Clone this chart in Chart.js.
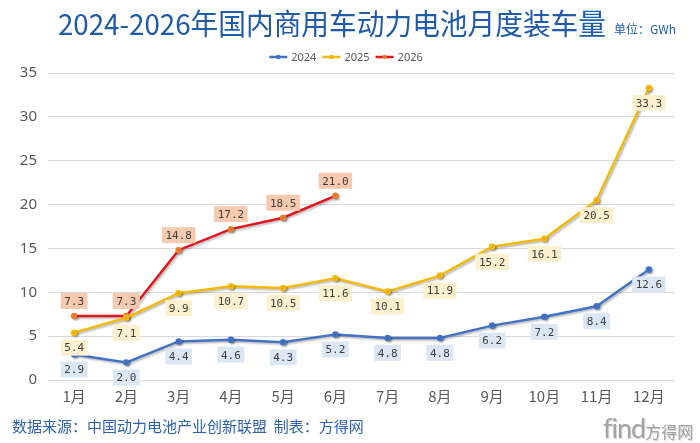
<!DOCTYPE html>
<html>
<head>
<meta charset="utf-8">
<script src="https://cdn.jsdelivr.net/npm/chart.js@4/dist/chart.umd.min.js"></script>
<style>
    html, body { margin: 0; padding: 0; background: #fff; }
    #wrap { position: relative; width: 700px; height: 443px; overflow: hidden; font-family: "Noto Sans CJK SC", "Noto Sans", sans-serif; }
    #chart { position: absolute; left: 0; top: 0; }
    #unit { position: absolute; left: 614px; top: 21px; font-size: 12px; line-height: 16px; color: #1f5ba6; white-space: nowrap; }
    #source { position: absolute; left: 12px; top: 415px; font-size: 15px; line-height: 22px; color: #2f62ab; white-space: nowrap; }
    #mark { position: absolute; left: 603px; top: 411px; color: #a3a3a3; white-space: nowrap; text-shadow: 1px 1px 0 #d8d8d8; }
    #mark .en { font-family: "Lato", sans-serif; font-size: 27px; letter-spacing: -1px; }
    #mark .cn { font-size: 16px; }
</style>
</head>
<body>
<div id="wrap">
    <canvas id="chart" width="700" height="443"></canvas>
    <div id="unit">单位：GWh</div>
    <div id="source">数据来源：中国动力电池产业创新联盟&nbsp;&nbsp;制表：方得网</div>
    <div id="mark"><span class="en">find</span><span class="cn">方得网</span></div>
</div>
<script>
const chartTitle = '2024-2026年国内商用车动力电池月度装车量';
const months = ['1月', '2月', '3月', '4月', '5月', '6月', '7月', '8月', '9月', '10月', '11月', '12月'];
const values2024 = [2.9, 2.0, 4.4, 4.6, 4.3, 5.2, 4.8, 4.8, 6.2, 7.2, 8.4, 12.6];
const values2025 = [5.4, 7.1, 9.9, 10.7, 10.5, 11.6, 10.1, 11.9, 15.2, 16.1, 20.5, 33.3];
const values2026 = [7.3, 7.3, 14.8, 17.2, 18.5, 21.0];
const yTicks = [0, 5, 10, 15, 20, 25, 30, 35];

const seriesList = [
    { name: '2024', data: values2024, color: '#4472c4', point: '#4472c4', labelBg: '#dce7f5', below: true },
    { name: '2025', data: values2025, color: '#f5b90a', point: '#f5b90a', labelBg: '#fdf0cf', below: true },
    { name: '2026', data: values2026, color: '#e3141b', point: '#ed7d31', labelBg: '#f7c9ae', below: false }
];

const textColor = '#595959';

// title, soft line shadows, boxed value labels and the small legend
const lineDecor = {
    id: 'lineDecor',
    beforeDatasetsDraw(chart) {
        const ctx = chart.ctx;
        ctx.save();
        ctx.shadowColor = 'rgba(0,0,0,0.28)';
        ctx.shadowOffsetX = 1.5;
        ctx.shadowOffsetY = 1.5;
        ctx.shadowBlur = 2;
    },
    afterDatasetsDraw(chart) {
        const ctx = chart.ctx;
        ctx.restore();
        ctx.save();
        ctx.font = '11px "DejaVu Sans Mono", monospace';
        ctx.textAlign = 'center';
        ctx.textBaseline = 'middle';
        chart.data.datasets.forEach((ds, i) => {
            const meta = chart.getDatasetMeta(i);
            meta.data.forEach((pt, j) => {
                const v = ds.data[j];
                if (v == null) return;
                const text = v.toFixed(1);
                const y = pt.y + (ds.labelBelow ? 15 : -15);
                const w = ctx.measureText(text).width + 7;
                ctx.fillStyle = ds.labelBg;
                ctx.fillRect(pt.x - w / 2, y - 8, w, 16);
                ctx.fillStyle = '#404040';
                ctx.fillText(text, pt.x, y + 1);
            });
        });
        ctx.restore();
    },
    afterDraw(chart) {
        const ctx = chart.ctx;

        // title, squeezed to the reference width
        ctx.save();
        ctx.font = '29px "Noto Sans CJK SC", sans-serif';
        ctx.textBaseline = 'middle';
        ctx.fillStyle = '#1f5ba6';
        const tw = ctx.measureText(chartTitle).width;
        ctx.translate(58, 24);
        ctx.scale(548 / tw, 1);
        ctx.fillText(chartTitle, 0, 0);
        ctx.restore();

        // legend: short line with a dot, then the year
        ctx.save();
        ctx.font = '11px "Noto Sans", sans-serif';
        ctx.textBaseline = 'middle';
        const y = 57;
        const widths = chart.data.datasets.map(ds => 18 + 4 + ctx.measureText(ds.label).width);
        const gap = 6;
        const total = widths.reduce((a, b) => a + b, 0) + gap * (widths.length - 1);
        let x = 346 - total / 2;
        chart.data.datasets.forEach((ds, i) => {
            ctx.strokeStyle = ds.borderColor;
            ctx.lineWidth = 2.5;
            ctx.beginPath();
            ctx.moveTo(x, y);
            ctx.lineTo(x + 18, y);
            ctx.stroke();
            ctx.fillStyle = ds.pointBackgroundColor;
            ctx.beginPath();
            ctx.arc(x + 9, y, 2.2, 0, Math.PI * 2);
            ctx.fill();
            ctx.fillStyle = textColor;
            ctx.fillText(ds.label, x + 22, y + 1);
            x += widths[i] + gap;
        });
        ctx.restore();
    }
};

const datasets = seriesList.map(s => ({
    label: s.name,
    data: s.data,
    borderColor: s.color,
    backgroundColor: s.color,
    pointBackgroundColor: s.point,
    pointBorderColor: s.point,
    pointRadius: 2,
    borderWidth: 2.5,
    tension: 0,
    fill: false,
    labelBg: s.labelBg,
    labelBelow: s.below
}));

new Chart(document.getElementById('chart'), {
    type: 'line',
    data: { labels: months, datasets },
    options: {
        responsive: false,
        animation: false,
        layout: { padding: { top: 73, right: 25, bottom: 33, left: 0 } },
        plugins: {
            legend: { display: false },
            tooltip: { enabled: false }
        },
        scales: {
            x: {
                offset: true,
                grid: { display: false, drawTicks: false },
                border: { display: false },
                ticks: { color: textColor, font: { size: 15, family: '"Noto Sans CJK SC", sans-serif' }, padding: 7, maxRotation: 0 },
                afterFit: (scale) => { scale.height = 30; }
            },
            y: {
                min: 0,
                max: 35,
                afterBuildTicks: (scale) => { scale.ticks = yTicks.map(v => ({ value: v })); },
                grid: { color: '#d9d9d9', drawTicks: false },
                border: { display: false },
                ticks: { color: textColor, font: { size: 15, family: '"Noto Sans", sans-serif' }, padding: 11 },
                afterFit: (scale) => { scale.width = 48; }
            }
        }
    },
    plugins: [lineDecor]
});
</script>
</body>
</html>
